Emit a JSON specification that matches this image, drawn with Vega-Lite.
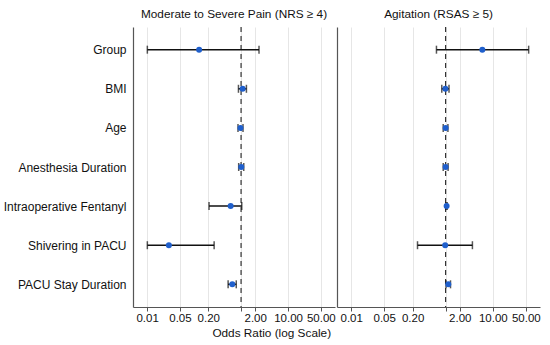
{
  "$schema": "https://vega.github.io/schema/vega-lite/v6.json",
  "background": "white",
  "padding": {"left": 3, "top": 8, "right": 5, "bottom": 5},
  "config": {
    "font": "Liberation Sans",
    "view": {"stroke": null},
    "concat": {"spacing": 1},
    "title": {"fontSize": 11.8, "fontWeight": "normal", "color": "#111", "offset": 6},
    "axis": {
      "domainColor": "#555",
      "domainWidth": 1.2,
      "tickColor": "#555",
      "labelColor": "#111",
      "labelFontSize": 12,
      "gridColor": "#e6e6e6",
      "titleFontWeight": "normal"
    },
    "axisX": {"labelFontSize": 11.5}
  },
  "title": {"text": "Odds Ratio (log Scale)", "orient": "bottom", "fontSize": 11.8, "anchor": "middle", "offset": 4},
  "datasets": {
    "or": [
      {"outcome": "pain", "variable": "Group", "or": 0.128, "lo": 0.0101, "hi": 2.41},
      {"outcome": "pain", "variable": "BMI", "or": 1.08, "lo": 0.88, "hi": 1.3},
      {"outcome": "pain", "variable": "Age", "or": 0.97, "lo": 0.86, "hi": 1.1},
      {"outcome": "pain", "variable": "Anesthesia Duration", "or": 1.01, "lo": 0.89, "hi": 1.14},
      {"outcome": "pain", "variable": "Intraoperative Fentanyl", "or": 0.6, "lo": 0.208, "hi": 1.035},
      {"outcome": "pain", "variable": "Shivering in PACU", "or": 0.029, "lo": 0.0101, "hi": 0.267},
      {"outcome": "pain", "variable": "PACU Stay Duration", "or": 0.65, "lo": 0.53, "hi": 0.79},
      {"outcome": "agit", "variable": "Group", "or": 6.0, "lo": 0.64, "hi": 57.5},
      {"outcome": "agit", "variable": "BMI", "or": 0.99, "lo": 0.83, "hi": 1.18},
      {"outcome": "agit", "variable": "Age", "or": 1.0, "lo": 0.89, "hi": 1.12},
      {"outcome": "agit", "variable": "Anesthesia Duration", "or": 1.0, "lo": 0.89, "hi": 1.13},
      {"outcome": "agit", "variable": "Intraoperative Fentanyl", "or": 1.05, "lo": 1.02, "hi": 1.08},
      {"outcome": "agit", "variable": "Shivering in PACU", "or": 0.98, "lo": 0.254, "hi": 3.7},
      {"outcome": "agit", "variable": "PACU Stay Duration", "or": 1.14, "lo": 1.02, "hi": 1.27}
    ],
    "ref": [{"v": 1}]
  },
  "hconcat": [
    {
      "title": "Moderate to Severe Pain (NRS ≥ 4)",
      "width": 202,
      "height": 280,
      "layer": [
        {
          "data": {"name": "ref"},
          "mark": {"type": "rule", "strokeDash": [5, 4], "color": "#333", "strokeWidth": 1.2},
          "encoding": {"x": {"field": "v", "type": "quantitative", "scale": {"type": "log", "domain": [0.005, 100], "nice": false}}}
        },
        {
          "data": {"name": "or"},
          "transform": [{"filter": "datum.outcome == 'pain'"}],
          "layer": [
            {
              "mark": {"type": "rule", "color": "#111", "strokeWidth": 1.5},
              "encoding": {
                "x": {"field": "lo", "type": "quantitative"},
                "x2": {"field": "hi"}
              }
            },
            {
              "mark": {"type": "tick", "color": "#111", "thickness": 1.5, "size": 8},
              "encoding": {"x": {"field": "lo", "type": "quantitative"}}
            },
            {
              "mark": {"type": "tick", "color": "#111", "thickness": 1.5, "size": 8},
              "encoding": {"x": {"field": "hi", "type": "quantitative"}}
            },
            {
              "mark": {"type": "point", "filled": true, "shape": "circle", "size": 36, "color": "#1f5fcc", "opacity": 1},
              "encoding": {"x": {"field": "or", "type": "quantitative"}}
            }
          ],
          "encoding": {
            "y": {
              "field": "variable", "type": "nominal",
              "sort": ["Group", "BMI", "Age", "Anesthesia Duration", "Intraoperative Fentanyl", "Shivering in PACU", "PACU Stay Duration"],
              "scale": {"type": "point", "padding": 0.58},
              "axis": {"title": null, "ticks": false, "labelPadding": 7, "domain": true, "grid": false}
            }
          }
        }
      ],
      "encoding": {
        "x": {
          "type": "quantitative",
          "axis": {
            "title": null,
            "values": [0.01, 0.05, 0.2, 1, 2, 10, 50],
            "labelExpr": "datum.value == 1 ? '' : format(datum.value, '.2f')",
            "grid": true,
            "tickSize": 4,
            "labelPadding": 1
          }
        }
      }
    },
    {
      "title": "Agitation (RSAS ≥ 5)",
      "width": 203,
      "height": 280,
      "layer": [
        {
          "data": {"name": "ref"},
          "mark": {"type": "rule", "strokeDash": [5, 4], "color": "#333", "strokeWidth": 1.2},
          "encoding": {"x": {"field": "v", "type": "quantitative", "scale": {"type": "log", "domain": [0.005, 100], "nice": false}}}
        },
        {
          "data": {"name": "or"},
          "transform": [{"filter": "datum.outcome == 'agit'"}],
          "layer": [
            {
              "mark": {"type": "rule", "color": "#111", "strokeWidth": 1.5},
              "encoding": {
                "x": {"field": "lo", "type": "quantitative"},
                "x2": {"field": "hi"}
              }
            },
            {
              "mark": {"type": "tick", "color": "#111", "thickness": 1.5, "size": 8},
              "encoding": {"x": {"field": "lo", "type": "quantitative"}}
            },
            {
              "mark": {"type": "tick", "color": "#111", "thickness": 1.5, "size": 8},
              "encoding": {"x": {"field": "hi", "type": "quantitative"}}
            },
            {
              "mark": {"type": "point", "filled": true, "shape": "circle", "size": 36, "color": "#1f5fcc", "opacity": 1},
              "encoding": {"x": {"field": "or", "type": "quantitative"}}
            }
          ],
          "encoding": {
            "y": {
              "field": "variable", "type": "nominal",
              "sort": ["Group", "BMI", "Age", "Anesthesia Duration", "Intraoperative Fentanyl", "Shivering in PACU", "PACU Stay Duration"],
              "scale": {"type": "point", "padding": 0.58},
              "axis": {"title": null, "ticks": false, "labels": false, "domain": true, "grid": false}
            }
          }
        }
      ],
      "encoding": {
        "x": {
          "type": "quantitative",
          "axis": {
            "title": null,
            "values": [0.01, 0.05, 0.2, 1, 2, 10, 50],
            "labelExpr": "datum.value == 1 ? '' : format(datum.value, '.2f')",
            "grid": true,
            "tickSize": 4,
            "labelPadding": 1
          }
        }
      }
    }
  ]
}
